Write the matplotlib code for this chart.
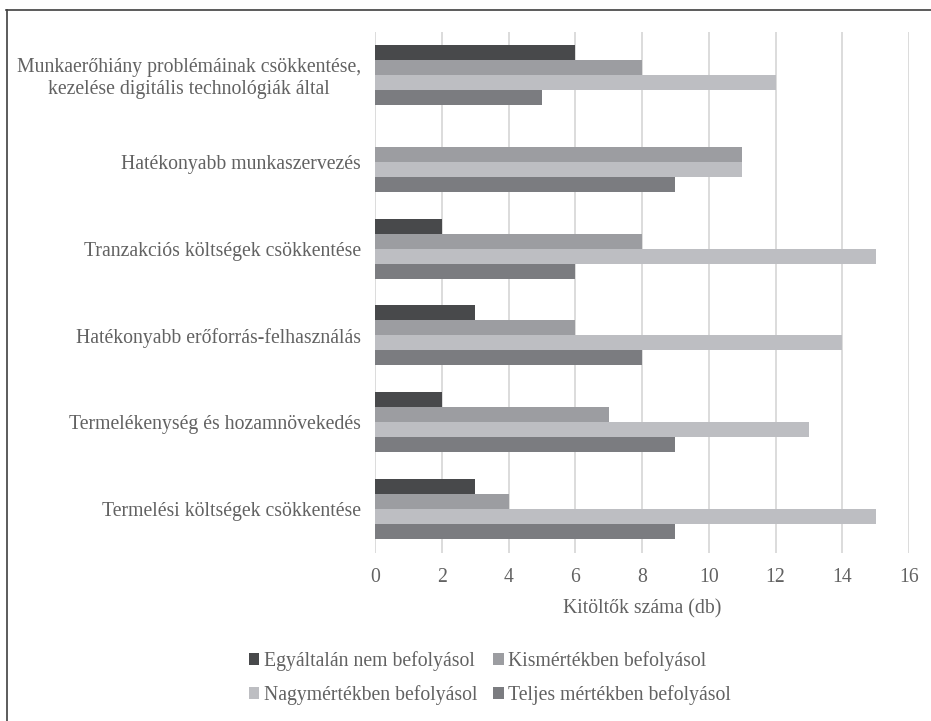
import numpy as np
import matplotlib
matplotlib.use('Agg')
import matplotlib.pyplot as plt
from matplotlib.lines import Line2D

plt.rcParams['font.family'] = ['Liberation Serif', 'DejaVu Serif']

# categories listed top to bottom
categories = ['Munkaerőhiány problémáinak csökkentése,\nkezelése digitális technológiák által',
              'Hatékonyabb munkaszervezés',
              'Tranzakciós költségek csökkentése',
              'Hatékonyabb erőforrás-felhasználás',
              'Termelékenység és hozamnövekedés',
              'Termelési költségek csökkentése']
series_names = ['Egyáltalán nem befolyásol', 'Kismértékben befolyásol',
                'Nagymértékben befolyásol', 'Teljes mértékben befolyásol']
egyaltalan = [6, 0, 2, 3, 2, 3]
kismertekben = [8, 11, 8, 6, 7, 4]
nagymertekben = [12, 11, 15, 14, 13, 15]
teljes = [5, 9, 6, 8, 9, 9]
xticks = [0, 2, 4, 6, 8, 10, 12, 14, 16]

colors = ['#48494b', '#9c9da1', '#bdbec2', '#7b7c80']
text_col = '#626262'
fs = 14.2

fig = plt.figure(figsize=(9.31, 7.21), dpi=100)
ax = fig.add_axes([375/931, 1-552.5/721, (909-375)/931, (552.5-31.5)/721])

y = np.arange(len(categories))
h = 0.1725
all_series = [egyaltalan, kismertekben, nagymertekben, teljes]
handles = []
for j, vals in enumerate(all_series):
    b = ax.barh(y + (j - 1.5)*h, vals, height=h, color=colors[j],
                label=series_names[j], zorder=3)
    handles.append(b)

ax.set_ylim(5.5, -0.5)
ax.set_xlim(0, 16)
ax.set_xticks(xticks)
ax.set_yticks(y)
ax.set_yticklabels(categories, multialignment='center')
ax.tick_params(axis='y', length=0, pad=10, labelsize=fs, labelcolor=text_col)
ax.tick_params(axis='x', length=0, pad=11, labelsize=fs, labelcolor=text_col)
ax.grid(axis='x', color='#d9d9d9', linewidth=1.3, zorder=0)
for s in ax.spines.values():
    s.set_visible(False)
ax.set_xlabel('Kitöltők száma (db)', fontsize=fs, color=text_col, labelpad=9)

order = [0, 2, 1, 3]
leg = fig.legend([handles[i] for i in order], [series_names[i] for i in order],
                 ncol=2, loc='center', bbox_to_anchor=(490/931, 1-678/721),
                 frameon=False, fontsize=fs, handlelength=0.55, handleheight=0.55,
                 handletextpad=0.25, columnspacing=0.75, labelspacing=0.7)
for t in leg.get_texts():
    t.set_color(text_col)

# outer frame lines (top and left only)
fig.add_artist(Line2D([6/931, 1], [1-9.5/721, 1-9.5/721], color='#404040', lw=1.2,
                      transform=fig.transFigure))
fig.add_artist(Line2D([6.5/931, 6.5/931], [0, 1-9.5/721], color='#404040', lw=1.2,
                      transform=fig.transFigure))

fig.savefig('out.png', dpi=100)
